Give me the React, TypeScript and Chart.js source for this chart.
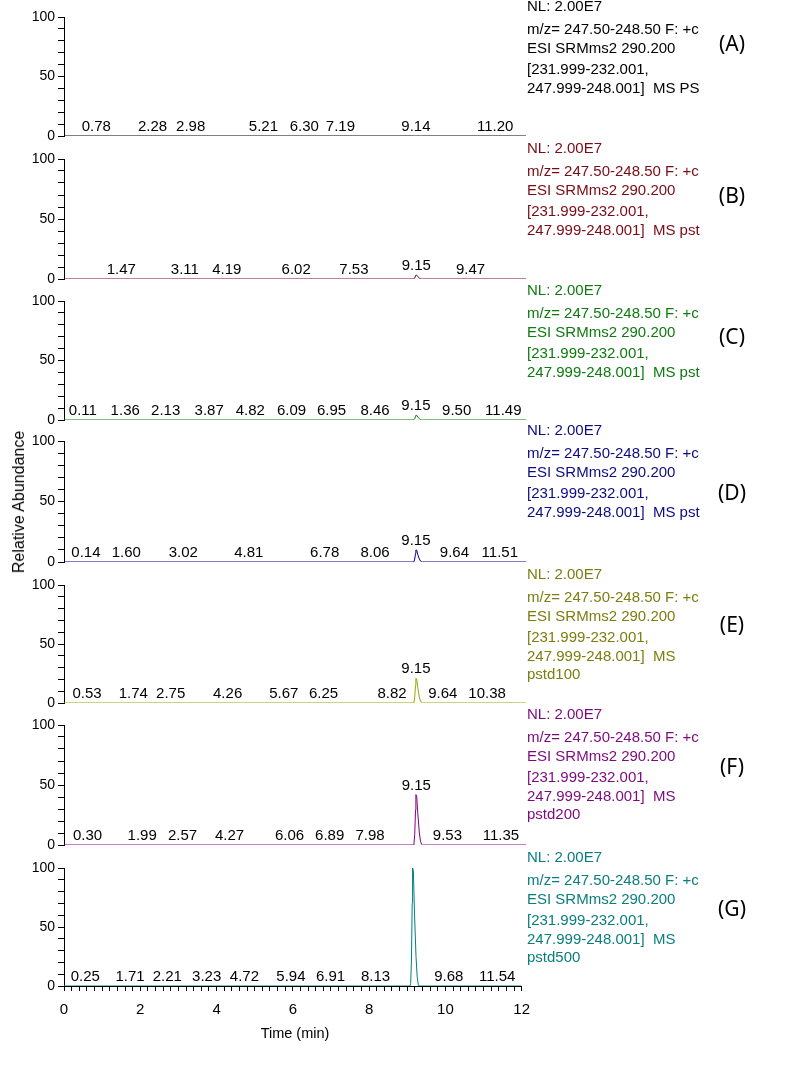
import React, { useEffect, useRef } from 'react';
import { Chart, registerables } from 'chart.js';

Chart.register(...registerables);

// ---------- data ----------
const panelIds = ['A', 'B', 'C', 'D', 'E', 'F', 'G'];
const traceColors = ['#000000', '#7a0a14', '#0a7d0a', '#000080', '#9aa600', '#800080', '#008080'];
const textColors = ['#000000', '#7a0a14', '#0f7a0f', '#0c0c80', '#7d7d10', '#7d0a7d', '#0a7d7d'];

const peakTime = [0, 9.07, 9.09, 9.11, 9.13, 9.14, 9.16, 9.19, 9.23, 9.26, 9.29, 9.31, 12];
const intensityA = [0, 0, 0, 0, 0, 0, 0, 0, 0, 0, 0, 0, 0];
const intensityB = [0, 0, 0, 0.8, 2.5, 3.3, 3.2, 2, 0.8, 0.2, 0, 0, 0];
const intensityC = [0, 0, 0, 1, 3, 4, 4, 2.5, 1, 0.3, 0, 0, 0];
const intensityD = [0, 0, 0.3, 2.5, 7, 10, 9.8, 6, 2.5, 0.8, 0.1, 0, 0];
const intensityE = [0, 0, 0.5, 5, 15, 21, 20.5, 13, 5, 1.7, 0.3, 0, 0];
const intensityF = [0, 0, 1, 9, 29, 42, 41, 26, 10, 3, 0.5, 0, 0];
const intensityG = [0, 0, 2, 22, 70, 100, 98, 62, 25, 8, 1, 0, 0];

const labelTextA = ['0.78', '2.28', '2.98', '5.21', '6.30', '7.19', '9.14', '11.20'];
const labelTimeA = [0.84, 2.30, 3.29, 5.18, 6.24, 7.18, 9.14, 11.20];
const labelTextB = ['1.47', '3.11', '4.19', '6.02', '7.53', '9.15', '9.47'];
const labelTimeB = [1.49, 3.14, 4.23, 6.03, 7.53, 9.15, 10.56];
const labelTextC = ['0.11', '1.36', '2.13', '3.87', '4.82', '6.09', '6.95', '8.46', '9.15', '9.50', '11.49'];
const labelTimeC = [0.49, 1.59, 2.64, 3.77, 4.84, 5.91, 6.95, 8.08, 9.14, 10.20, 11.41];
const labelTextD = ['0.14', '1.60', '3.02', '4.81', '6.78', '8.06', '9.15', '9.64', '11.51'];
const labelTimeD = [0.57, 1.62, 3.10, 4.80, 6.77, 8.08, 9.14, 10.14, 11.32];
const labelTextE = ['0.53', '1.74', '2.75', '4.26', '5.67', '6.25', '8.82', '9.15', '9.64', '10.38'];
const labelTimeE = [0.60, 1.80, 2.77, 4.25, 5.71, 6.74, 8.52, 9.14, 9.84, 10.99];
const labelTextF = ['0.30', '1.99', '2.57', '4.27', '6.06', '6.89', '7.98', '9.15', '9.53', '11.35'];
const labelTimeF = [0.61, 2.03, 3.08, 4.30, 5.86, 6.90, 7.95, 9.15, 9.96, 11.35];
const labelTextG = ['0.25', '1.71', '2.21', '3.23', '4.72', '5.94', '6.91', '8.13', '9.68', '11.54'];
const labelTimeG = [0.56, 1.73, 2.71, 3.74, 4.73, 5.95, 6.99, 8.17, 10.09, 11.36];

const headerLines = ['NL: 2.00E7', 'm/z= 247.50-248.50 F: +c', 'ESI SRMms2 290.200', '[231.999-232.001,'];
const lastLines = [
  ['247.999-248.001]  MS PSTD0'],
  ['247.999-248.001]  MS pstd0'],
  ['247.999-248.001]  MS pstd0'],
  ['247.999-248.001]  MS pstd0'],
  ['247.999-248.001]  MS', 'pstd100'],
  ['247.999-248.001]  MS', 'pstd200'],
  ['247.999-248.001]  MS', 'pstd500'],
];

const intensities = [intensityA, intensityB, intensityC, intensityD, intensityE, intensityF, intensityG];
const labelTexts = [labelTextA, labelTextB, labelTextC, labelTextD, labelTextE, labelTextF, labelTextG];
const labelTimes = [labelTimeA, labelTimeB, labelTimeC, labelTimeD, labelTimeE, labelTimeF, labelTimeG];

// ---------- layout ----------
const PANEL_TOP = [17, 159, 301, 441, 585, 725, 868];
const PANEL_BOTTOM = [136, 279, 420, 562, 703, 845, 986];
const ID_Y = [43, 195, 336, 492, 624, 766, 908];
const LINE_OFFSETS = [-11, 12, 31, 52, 71, 89];
const PAD_TOP = 14;
const CANVAS_W = 540;
const FONT = '"Liberation Sans", Arial, sans-serif';

function interp(ts: number[], vs: number[], t: number) {
  for (let i = 0; i < ts.length - 1; i++) {
    if (t >= ts[i] && t <= ts[i + 1]) {
      const f = (t - ts[i]) / (ts[i + 1] - ts[i] || 1);
      return vs[i] + f * (vs[i + 1] - vs[i]);
    }
  }
  return 0;
}

function Panel({ idx }: { idx: number }) {
  const ref = useRef<HTMLCanvasElement>(null);
  const isLast = idx === 6;
  const plotH = PANEL_BOTTOM[idx] - PANEL_TOP[idx];
  const xAxisH = isLast ? 40 : 0;
  const padBottom = isLast ? 0 : 16;
  const h = PAD_TOP + plotH + xAxisH + padBottom;

  useEffect(() => {
    const vals = intensities[idx];
    const texts = labelTexts[idx];
    const times = labelTimes[idx];
    const labelPlugin = {
      id: 'peakLabels' + idx,
      afterDatasetsDraw(chart: any) {
        const ctx = chart.ctx;
        const xs = chart.scales.x;
        const ys = chart.scales.y;
        ctx.save();
        ctx.font = '15px ' + FONT;
        ctx.fillStyle = '#000';
        ctx.textAlign = 'center';
        ctx.textBaseline = 'alphabetic';
        texts.forEach((t: string, i: number) => {
          const v = interp(peakTime, vals, times[i]);
          const x = xs.getPixelForValue(times[i]);
          const y = ys.getPixelForValue(v) - 5;
          ctx.fillText(t, x, y);
        });
        ctx.restore();
      },
    };
    const chart = new Chart(ref.current as HTMLCanvasElement, {
      type: 'line',
      data: {
        datasets: [
          {
            data: peakTime.map((t, i) => ({ x: t, y: vals[i] })),
            borderColor: traceColors[idx],
            borderWidth: 1,
            pointRadius: 0,
            tension: 0,
            fill: false,
          },
        ],
      },
      options: {
        responsive: false,
        animation: false,
        devicePixelRatio: 1,
        layout: { padding: { top: PAD_TOP, right: 14, bottom: padBottom, left: 0 } },
        plugins: { legend: { display: false }, tooltip: { enabled: false }, title: { display: false } },
        scales: {
          x: {
            type: 'linear',
            min: 0,
            max: 12,
            display: isLast,
            grid: { display: isLast, drawOnChartArea: false, drawTicks: isLast, tickLength: 5, color: '#000' },
            border: { display: isLast, color: '#000', width: 1 },
            ticks: {
              display: isLast,
              stepSize: 0.2,
              autoSkip: false,
              maxRotation: 0,
              padding: 10,
              color: '#000',
              font: { family: FONT, size: 15 },
              callback: (v: any) => {
                const r = Math.round(v);
                return Math.abs(v - r) < 1e-6 && r % 2 === 0 ? String(r) : '';
              },
            },
            afterFit: (s: any) => {
              s.height = xAxisH;
            },
          } as any,
          y: {
            type: 'linear',
            min: 0,
            max: 100,
            grid: { display: true, drawOnChartArea: false, drawTicks: true, tickLength: 6, color: '#000' },
            border: { display: true, color: '#000', width: 1 },
            ticks: {
              stepSize: 10,
              autoSkip: false,
              padding: 3,
              color: '#000',
              font: { family: FONT, size: 14 },
              callback: (v: any) => (Math.round(v) % 50 === 0 ? String(Math.round(v)) : ''),
            },
            afterFit: (s: any) => {
              s.width = 64;
            },
          } as any,
        },
      },
      plugins: [labelPlugin],
    });
    return () => chart.destroy();
  }, []);

  return (
    <canvas
      ref={ref}
      width={CANVAS_W}
      height={h}
      style={{ position: 'absolute', left: 0, top: PANEL_TOP[idx] - PAD_TOP, width: CANVAS_W, height: h }}
    />
  );
}

function PanelText({ idx }: { idx: number }) {
  const lines = headerLines.concat(lastLines[idx]);
  return (
    <>
      {lines.map((ln, i) => (
        <div
          key={i}
          style={{
            position: 'absolute',
            left: 527,
            top: PANEL_TOP[idx] + LINE_OFFSETS[i] - 9,
            width: i === 4 ? 173 : 200,
            height: 18,
            lineHeight: '18px',
            overflow: 'hidden',
            whiteSpace: 'pre',
            fontFamily: FONT,
            fontSize: 15,
            color: textColors[idx],
          }}
        >
          {ln}
        </div>
      ))}
      <div
        style={{
          position: 'absolute',
          left: 732,
          top: ID_Y[idx],
          transform: 'translate(-50%, -50%)',
          fontFamily: '"Noto Sans", sans-serif',
          fontSize: 21,
          color: '#000',
          whiteSpace: 'nowrap',
        }}
      >
        ({panelIds[idx]})
      </div>
    </>
  );
}

export default function App() {
  return (
    <div style={{ position: 'absolute', left: 0, top: 0, width: 786, height: 1073, background: '#fff', overflow: 'hidden' }}>
      {panelIds.map((_, i) => (
        <Panel key={'p' + i} idx={i} />
      ))}
      {panelIds.map((_, i) => (
        <PanelText key={'t' + i} idx={i} />
      ))}
      <div
        style={{
          position: 'absolute',
          left: 19,
          top: 502,
          transform: 'translate(-50%, -50%) rotate(-90deg)',
          fontFamily: FONT,
          fontSize: 16,
          whiteSpace: 'nowrap',
          color: '#000',
        }}
      >
        Relative Abundance
      </div>
      <div
        style={{
          position: 'absolute',
          left: 295,
          top: 1033,
          transform: 'translate(-50%, -50%)',
          fontFamily: FONT,
          fontSize: 14.5,
          whiteSpace: 'nowrap',
          color: '#000',
        }}
      >
        Time (min)
      </div>
    </div>
  );
}
